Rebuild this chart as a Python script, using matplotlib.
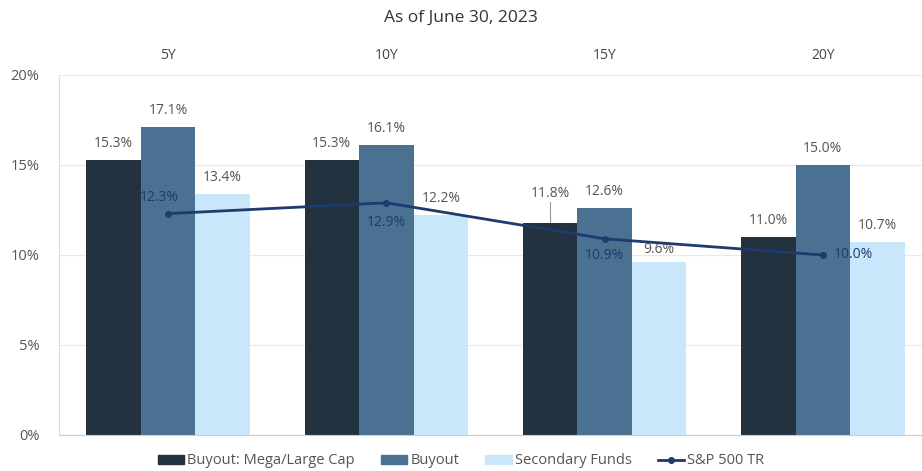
import numpy as np
import matplotlib.pyplot as plt
from matplotlib.lines import Line2D
from matplotlib.patches import Patch

# data
periods = ["5Y", "10Y", "15Y", "20Y"]
mega_large = [15.3, 15.3, 11.8, 11.0]
buyout = [17.1, 16.1, 12.6, 15.0]
secondary = [13.4, 12.2, 9.6, 10.7]
sp500 = [12.3, 12.9, 10.9, 10.0]

c_dark = "#22323f"
c_mid = "#4b7192"
c_light = "#c8e7fb"
c_line = "#1e3a6e"
c_text = "#555555"

plt.rcParams['font.family'] = ['Open Sans', 'DejaVu Sans']

fig = plt.figure(figsize=(9.22, 4.71), dpi=100)
ax = fig.add_axes([59/922, 36/471, 873/922, 360/471])

x = np.arange(len(periods))
w = 0.25
ax.bar(x - w, mega_large, w, color=c_dark, zorder=2)
ax.bar(x, buyout, w, color=c_mid, zorder=2)
ax.bar(x + w, secondary, w, color=c_light, zorder=2)
ax.plot(x, sp500, color=c_line, lw=2, marker="o", ms=4, zorder=4)

ax.set_xlim(-0.5, 3.5)
ax.set_ylim(0, 20)
ax.set_yticks([0, 5, 10, 15, 20])
ax.set_yticklabels([f"{v}%" for v in [0, 5, 10, 15, 20]])
ax.tick_params(axis="y", length=0, pad=14, labelsize=10.5, labelcolor=c_text)
ax.set_xticks([])
ax.grid(axis="y", color="#e8e8e8", lw=0.8, zorder=0)
for s in ["top", "right"]:
    ax.spines[s].set_visible(False)
ax.spines["left"].set_color("#dddddd")
ax.spines["bottom"].set_color("#cccccc")

# bar value labels
fs = 10
for i in range(len(periods)):
    if i != 2:
        ax.text(x[i] - w, mega_large[i] + 0.5, f"{mega_large[i]:.1f}%", ha="center", va="bottom", fontsize=fs, color=c_text)
        ax.text(x[i] + w, secondary[i] + 0.5, f"{secondary[i]:.1f}%", ha="center", va="bottom", fontsize=fs, color=c_text)
    ax.text(x[i], buyout[i] + 0.5, f"{buyout[i]:.1f}%", ha="center", va="bottom", fontsize=fs, color=c_text)

# 15Y: mega/large label lifted with a leader, secondary label sits on the line
ax.text(x[2] - w, mega_large[2] + 1.2, f"{mega_large[2]:.1f}%", ha="center", va="bottom", fontsize=fs, color=c_text)
ax.plot([x[2] - w, x[2] - w], [mega_large[2] + 0.05, mega_large[2] + 1.15], color="#999999", lw=0.8, zorder=3)
ax.text(x[2] + w, secondary[2] + 0.3, f"{secondary[2]:.1f}%", ha="center", va="bottom", fontsize=fs, color=c_text)

# S&P labels
ax.text(x[0] - 0.04, sp500[0] + 0.5, f"{sp500[0]:.1f}%", ha="center", va="bottom", fontsize=fs, color=c_line)
ax.text(x[1], sp500[1] - 0.7, f"{sp500[1]:.1f}%", ha="center", va="top", fontsize=fs, color=c_line)
ax.text(x[2], sp500[2] - 0.5, f"{sp500[2]:.1f}%", ha="center", va="top", fontsize=fs, color=c_line)
ax.text(x[3] + 0.05, sp500[3], f"{sp500[3]:.1f}%", ha="left", va="center", fontsize=fs, color=c_line)

# period labels at top
for i, p in enumerate(periods):
    ax.text(x[i], 1.055, p, transform=ax.get_xaxis_transform(), ha="center", va="center", fontsize=10, color="#444444")

fig.text(0.5, 1 - 18/471, "As of June 30, 2023", ha="center", va="center", fontsize=12.5, color="#333333")

handles = [
    Patch(color=c_dark, label="Buyout: Mega/Large Cap"),
    Patch(color=c_mid, label="Buyout"),
    Patch(color=c_light, label="Secondary Funds"),
    Line2D([], [], color=c_line, lw=2, marker="o", ms=4, label="S&P 500 TR"),
]
fig.legend(handles=handles, loc="center", bbox_to_anchor=(0.5, 1 - 461/471), ncol=4, frameon=False,
           fontsize=10.5, labelcolor=c_text, handlelength=1.8, handleheight=0.6, columnspacing=1.8, handletextpad=0.2)

fig.savefig("out.png", dpi=100)
